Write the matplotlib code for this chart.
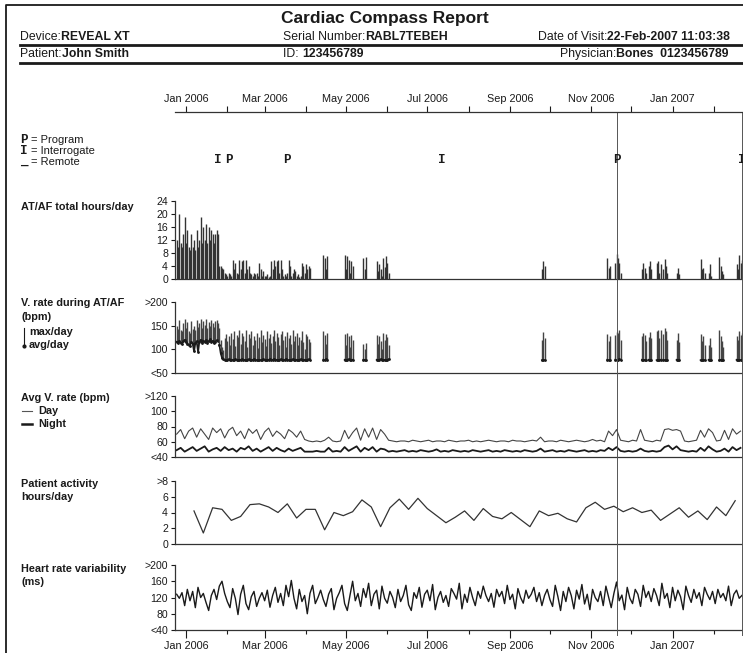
import numpy as np
import matplotlib
matplotlib.use('Agg')
import matplotlib.pyplot as plt
import matplotlib.dates as mdates
from datetime import datetime

plt.rcParams['font.family'] = ['Liberation Sans', 'DejaVu Sans']

W, H = 743, 653
INK = '#1a1a1a'
MONO = ['Liberation Mono', 'DejaVu Sans Mono']

# day numbers below are counted from 1 Jan 2006
day0 = mdates.date2num(datetime(2006, 1, 1))

# follow-up events (P = program, I = interrogate)
event_days = [24, 32, 76, 192, 323, 417]
event_kind = ['I', 'P', 'P', 'I', 'P', 'I']
event_ruled = [False, False, False, False, True, True]

# AT/AF episodes: first day of each run of consecutive days, then per-day values
af_start = [-7, 25, 103, 119, 133, 143, 267, 316, 322, 342, 347, 353, 358, 368, 386, 392, 400, 413]
af_hours = [
    [12, 10, 20, 11, 10, 14, 19, 11, 15, 10, 9, 14, 10, 12, 9, 15, 10, 12, 19, 11,
     16, 12, 17, 11, 16, 12, 15, 14, 11, 14, 15, 14],
    [4, 4, 3.5, 3, 2, 1.5, 1, 2, 1.5, 1, 5.8, 3, 5, 2, 1.5, 6, 3, 5.5, 6, 2,
     5.8, 3, 4, 2, 1.5, 1, 2, 1.5, 2, 1, 5, 3, 1, 2.5, 1, 1, 1.5, 0.5, 1, 5.5,
     3, 6, 4, 5.5, 6, 2, 6, 3, 1, 1.5, 1, 2, 6, 4, 1, 2, 3, 2.5, 1, 1.5,
     0.5, 1, 5, 4, 2, 4.5, 3, 4, 3.5],
    [7.5, 6.5, 3, 7],
    [7.5, 3, 7, 6, 2, 5.5, 4],
    [6.5, 3, 6.8],
    [5.5, 2.5, 4.5, 3, 1, 6.5, 3.7, 7, 5, 2],
    [3, 5.5, 4],
    [6.5, 3.5, 4],
    [5, 7.7, 6.5, 5, 2],
    [3, 5, 3.5, 2],
    [4, 5.5, 3],
    [5, 5.5, 2, 4.5],
    [3, 6.3, 4, 2],
    [2, 3.3, 1.5],
    [6.3, 3, 3.5, 2],
    [2, 4.5, 1],
    [6.8, 4, 2.5, 1.5],
    [4.5, 3, 7.5, 5, 6],
]
vr_max = [
    [150, 142, 162, 140, 138, 155, 165, 145, 158, 138, 135, 160, 142, 150, 140, 163, 148, 155, 165, 145,
     160, 152, 165, 145, 158, 150, 162, 156, 148, 160, 162, 155],
    [145, 120, 105, 98, 125, 132, 118, 128, 110, 135, 122, 138, 108, 130, 126, 140, 112, 135, 128, 118,
     140, 105, 132, 124, 138, 110, 128, 120, 135, 102, 126, 140, 115, 130, 122, 108, 138, 125, 132, 114,
     128, 140, 118, 135, 126, 110, 132, 138, 120, 128, 105, 136, 124, 130, 112, 140, 118, 128, 134, 110,
     126, 120, 138, 116, 100, 132, 128, 122, 115],
    [138, 130, 112, 135],
    [132, 110, 135, 128, 104, 130, 120],
    [112, 100, 114],
    [130, 112, 128, 118, 100, 135, 120, 133, 126, 110],
    [120, 137, 125],
    [132, 118, 128],
    [130, 137, 135, 141, 120],
    [128, 135, 130, 118],
    [126, 136, 124],
    [138, 141, 125, 140],
    [132, 145, 138, 120],
    [120, 135, 115],
    [132, 118, 128, 110],
    [110, 125, 105],
    [140, 128, 118, 105],
    [128, 120, 138, 130, 134],
]
vr_avg = [
    [116, 113, 118, 114, 112, 117, 120, 115, 112, 110, 108, 116, 112, 96, 113, 117, 95, 115, 120, 114,
     118, 116, 119, 114, 117, 121, 115, 118, 113, 116, 119, 117],
    [110, 92, 82, 79, 78, 77, 78, 79, 77, 78, 78, 77, 79, 78, 77, 78, 78, 79, 77, 78,
     77, 78, 79, 78, 77, 78, 79, 78, 77, 78, 78, 77, 78, 79, 78, 77, 78, 78, 79, 77,
     78, 79, 77, 78, 78, 77, 79, 78, 77, 78, 79, 78, 77, 78, 78, 79, 77, 78, 78, 77,
     78, 79, 77, 78, 78, 77, 78, 79, 78],
    [78, 77, 79, 78],
    [78, 77, 78, 79, 78, 77, 78],
    [78, 78, 77],
    [78, 77, 78, 79, 78, 77, 78, 78, 77, 79],
    [77, 78, 77],
    [78, 77, 78],
    [78, 77, 78, 79, 78],
    [78, 77, 78, 77],
    [78, 77, 78],
    [77, 78, 77, 78],
    [78, 77, 78, 77],
    [78, 77, 78],
    [77, 78, 78, 77],
    [78, 77, 78],
    [77, 78, 78, 77],
    [78, 77, 78, 77, 78],
]

# average ventricular rate, one reading every 3 days
rate_start, rate_step = -7, 3
day_rate = [70, 76, 64, 74, 78, 66, 77, 70, 63, 78, 72, 77, 65, 75, 79, 68, 74, 64, 77, 71,
            76, 63, 73, 78, 67, 74, 70, 64, 76, 72, 66, 74, 63,
            61, 60, 61, 60, 62, 66, 61, 60, 61,
            75, 64, 72, 78, 62, 77, 66, 78, 63, 76, 70, 62,
            61, 60, 61, 61, 60, 62, 61, 60, 61, 62, 60, 61, 61, 60, 62, 61, 60, 61, 61, 62,
            60, 61, 60, 61, 62, 61, 60, 61, 61, 60, 62, 61, 61, 60, 61, 62, 61, 66, 60, 61,
            61, 60, 62, 61, 60, 61, 62, 61, 60, 61, 63, 61, 62, 60,
            74, 68, 76, 62,
            61, 60, 62, 61, 76, 62, 61, 60, 62, 61, 76, 77, 75, 76, 74, 61, 60, 61, 62, 75,
            66, 77, 72, 61, 62, 75, 63, 77, 70, 74]
night_rate = [49, 52, 47, 50, 53, 48, 51, 54, 47, 50, 52, 48, 53, 49, 51, 47, 52, 50, 54, 48,
              51, 47, 50, 53, 48, 52, 49, 47, 51, 48, 50, 52, 47,
              47, 47, 48, 47, 47, 52, 47, 48, 47,
              53, 48, 51, 54, 47, 52, 49, 53, 47, 51, 50, 47,
              48, 47, 48, 49, 47, 48, 47, 49, 48, 47, 48, 50, 47, 48, 47, 49, 48, 47, 48, 47,
              49, 48, 47, 48, 49, 47, 48, 47, 49, 48, 47, 48, 47, 49, 48, 47, 48, 51, 47, 48,
              49, 47, 48, 47, 49, 48, 47, 48, 49, 47, 48, 47, 49, 48,
              52, 49, 53, 48,
              47, 48, 47, 48, 51, 48, 47, 48, 47, 48, 53, 55, 50, 54, 49, 48, 47, 48, 47, 52,
              48, 54, 50, 47, 48, 51, 47, 53, 49, 52]

# patient activity, weekly
act_start, act_step = 6, 7
activity = [4.2, 1.4, 4.6, 4.4, 3.0, 3.5, 5.0, 5.1, 4.7, 4.0, 5.1, 3.3, 4.4, 4.4, 1.8, 4.0,
            3.6, 4.1, 5.6, 4.7, 2.2, 4.6, 5.7, 4.4, 5.8, 4.5, 3.6, 2.7, 3.4, 4.2, 3.0, 4.5,
            3.5, 3.2, 4.0, 3.1, 2.2, 4.2, 3.6, 3.9, 3.2, 2.8, 4.6, 5.3, 4.4, 4.8, 4.1, 4.6,
            4.0, 4.3, 3.0, 3.8, 4.6, 3.4, 4.2, 3.1, 4.7, 3.6, 5.5]

# heart rate variability, every 2 days
hrv_start, hrv_step = -7, 2
hrv = [128, 118, 132, 100, 140, 112, 135, 95, 145, 120, 130, 108, 88, 125, 140, 115, 148, 160, 130, 110,
       95, 142, 118, 78, 128, 150, 105, 90, 122, 135, 98, 118, 132, 112, 138, 96, 125, 145, 108, 130,
       100, 150, 122, 162, 118, 92, 140, 110, 125, 80, 130, 150, 105, 120, 138, 115, 98, 128, 142, 90,
       118, 132, 150, 105, 88, 125, 160, 112, 130, 98, 142, 120, 155, 100, 128, 138, 92, 148, 118, 106,
       135, 120, 95, 140, 110, 125, 150, 102, 88, 132, 118, 145, 96, 128, 138, 112, 152, 90, 120, 135,
       108, 125, 98, 142, 130, 116, 155, 92, 128, 108, 145, 120, 100, 135, 118, 148, 125, 110, 130, 96,
       140, 122, 135, 105, 150, 115, 128, 92, 142, 120, 106, 138, 118, 128, 145, 110, 132, 100, 125, 140,
       115, 98, 150, 122, 88, 135, 110, 145, 125, 92, 138, 116, 152, 104, 128, 90, 140, 120, 110, 135,
       100, 148, 122, 95, 130, 158, 112, 126, 90, 145, 118, 105, 140, 128, 98, 150, 120, 135, 110, 142,
       125, 100, 155, 118, 130, 95, 145, 112, 138, 122, 90, 148, 125, 108, 140, 118, 132, 100, 145, 128,
       115, 135, 105, 140, 120, 130, 112, 148, 100, 128, 138, 118, 125]


def box(left, top, right, bottom):
    # pixel box -> figure fraction rect
    return [left / W, 1 - bottom / H, (right - left) / W, (bottom - top) / H]


def series_x(start, step, n):
    return day0 + start + step * np.arange(n)


fig = plt.figure(figsize=(W / 100, H / 100), dpi=100)
xlim = (day0 - 8.25, day0 - 8.25 + (W - 175) / 1.333)

# page layer in pixel coordinates
bg = fig.add_axes([0, 0, 1, 1])
bg.set_xlim(0, W)
bg.set_ylim(H, 0)
bg.axis('off')
bg.plot([6, 6, W + 10], [H + 10, 5, 5], color=INK, lw=1.3, clip_on=False)
bg.plot([20, W], [45, 45], color=INK, lw=2.0)
bg.plot([20, W], [63, 63], color=INK, lw=2.0)
bg.text(385, 18, 'Cardiac Compass Report', ha='center', va='center',
        fontsize=12.5, fontweight='bold', color=INK)


def field(x, y, label, value):
    t = bg.text(x, y, label, ha='left', va='center', fontsize=8.8, color=INK)
    bg.annotate(value, xy=(1, 0.5), xycoords=t, ha='left', va='center',
                fontsize=8.8, fontweight='bold', color=INK)


field(20, 37, 'Device:', 'REVEAL XT')
field(283, 37, 'Serial Number:', 'RABL7TEBEH')
field(538, 37, 'Date of Visit:', '22-Feb-2007 11:03:38')
field(20, 54, 'Patient:', 'John Smith')
field(283, 54, 'ID: ', '123456789')
field(560, 54, 'Physician:', 'Bones  0123456789')

# event legend
for y, sym, txt in [(140, 'P', '= Program'), (151, 'I', '= Interrogate'), (162, '_', '= Remote')]:
    bg.text(20, y, sym, family=MONO, fontweight='bold', fontsize=9, ha='left', va='center', color=INK)
    bg.text(31, y, txt, fontsize=8, ha='left', va='center', color=INK)

# row captions
lab = dict(fontsize=7.8, fontweight='bold', ha='left', va='center', color=INK)
bg.text(21, 207, 'AT/AF total hours/day', **lab)
bg.text(21, 303, 'V. rate during AT/AF', **lab)
bg.text(21, 317, '(bpm)', **lab)
bg.text(29, 332, 'max/day', **lab)
bg.text(29, 345, 'avg/day', **lab)
bg.plot([24, 24], [328, 345], color=INK, lw=0.8)
bg.plot([24], [346], 'o', color=INK, ms=2)
bg.text(21, 398, 'Avg V. rate (bpm)', **lab)
bg.plot([22, 32], [411, 411], color='#555', lw=0.8)
bg.text(38, 411, 'Day', **lab)
bg.plot([22, 32], [424, 424], color=INK, lw=1.8)
bg.text(38, 424, 'Night', **lab)
bg.text(21, 484, 'Patient activity', **lab)
bg.text(21, 497, 'hours/day', **lab)
bg.text(21, 569, 'Heart rate variability', **lab)
bg.text(21, 582, '(ms)', **lab)


def panel(top, bottom, lo, hi, ticks, labels):
    ax = fig.add_axes(box(175, top, W, bottom))
    ax.set_facecolor('none')
    ax.set_xlim(xlim)
    ax.set_ylim(lo, hi)
    ax.set_yticks(ticks)
    ax.set_yticklabels(labels)
    for s in ['top', 'right']:
        ax.spines[s].set_visible(False)
    for s in ['left', 'bottom']:
        ax.spines[s].set_color('#333')
        ax.spines[s].set_linewidth(0.9)
    ax.tick_params(axis='y', length=3, width=0.8, pad=2, labelsize=7.6, colors=INK)
    ax.tick_params(axis='x', bottom=False, labelbottom=False)
    return ax


ax1 = panel(201, 279, 0, 24, range(0, 25, 4), [str(v) for v in range(0, 25, 4)])
ax2 = panel(302, 373, 50, 200, [50, 100, 150, 200], ['<50', '100', '150', '>200'])
ax3 = panel(396, 457, 40, 120, [40, 60, 80, 100, 120], ['<40', '60', '80', '100', '>120'])
ax4 = panel(481, 544, 0, 8, [0, 2, 4, 6, 8], ['0', '2', '4', '6', '>8'])
ax5 = panel(565, 630, 40, 200, [40, 80, 120, 160, 200], ['<40', '80', '120', '160', '>200'])

for s, hrs, mx, av in zip(af_start, af_hours, vr_max, vr_avg):
    x = series_x(s, 1, len(hrs))
    ax1.vlines(x, 0, hrs, color='#333', lw=1.0)
    ax2.vlines(x, av, mx, color='#444', lw=1.0)
    ax2.plot(x, av, color=INK, lw=1.2, marker='o', ms=1.0)

ax3.plot(series_x(rate_start, rate_step, len(day_rate)), day_rate, color='#444', lw=0.8)
ax3.plot(series_x(rate_start, rate_step, len(night_rate)), night_rate, color=INK, lw=1.3)
ax4.plot(series_x(act_start, act_step, len(activity)), activity, color='#333', lw=0.9)
ax5.plot(series_x(hrv_start, hrv_step, len(hrv)), hrv, color=INK, lw=1.0)

odd_months = mdates.MonthLocator(bymonth=[1, 3, 5, 7, 9, 11])
ax5.xaxis.set_major_locator(odd_months)
ax5.xaxis.set_minor_locator(mdates.MonthLocator())
ax5.xaxis.set_major_formatter(mdates.DateFormatter('%b %Y'))
ax5.tick_params(axis='x', which='major', bottom=True, labelbottom=True, length=6,
                width=0.8, pad=2, labelsize=7.8, colors=INK)
ax5.tick_params(axis='x', which='minor', bottom=True, length=3, width=0.8, colors=INK)

# shared time axis on top, with follow-up events
top = fig.add_axes(box(175, 112, W, 632))
top.set_facecolor('none')
top.set_xlim(xlim)
top.set_ylim(0, 1)
for s in ['bottom', 'left', 'right']:
    top.spines[s].set_visible(False)
top.spines['top'].set_color('#333')
top.spines['top'].set_linewidth(0.9)
top.set_yticks([])
top.xaxis.tick_top()
top.xaxis.set_major_locator(mdates.MonthLocator(bymonth=[1, 3, 5, 7, 9, 11]))
top.xaxis.set_minor_locator(mdates.MonthLocator())
top.xaxis.set_major_formatter(mdates.DateFormatter('%b %Y'))
top.tick_params(axis='x', which='both', top=True, bottom=False, labeltop=True,
                labelbottom=False, length=4, width=0.8, pad=2, labelsize=7.8, colors=INK)

for d, k, ruled in zip(event_days, event_kind, event_ruled):
    top.text(day0 + d, 0.908, k, transform=top.get_xaxis_transform(), ha='center',
             va='center', family=MONO, fontweight='bold', fontsize=9, color=INK)
    if ruled:
        top.axvline(day0 + d, ymin=-0.006, ymax=1, color='#555', lw=0.7, clip_on=False)

fig.savefig('out.png', dpi=100)
